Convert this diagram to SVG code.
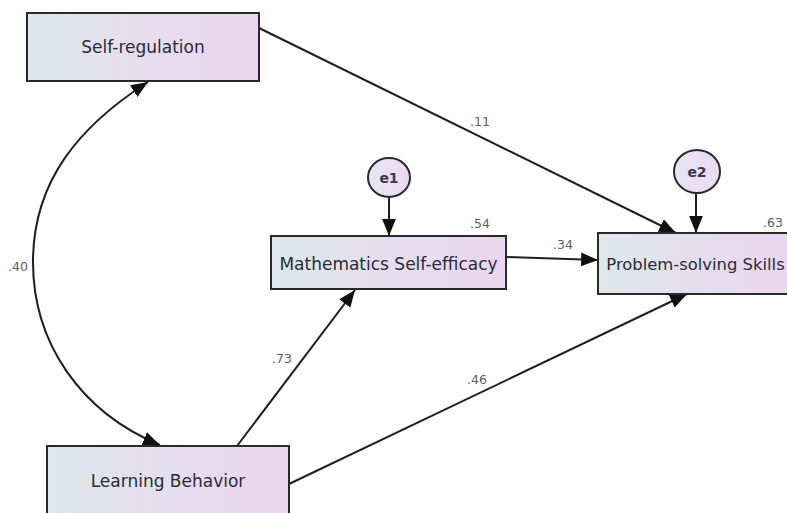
<svg xmlns="http://www.w3.org/2000/svg" width="787" height="513" viewBox="0 0 787 513">
  <style>
    .box { stroke: #2a2a2a; stroke-width: 2; fill: url(#boxGrad); }
    .err { stroke: #2a2a2a; stroke-width: 2; fill: url(#errGrad); }
    .name { font-family: "DejaVu Sans", Verdana, sans-serif; font-size: 17px; fill: #2b2b38; text-anchor: middle; }
    .ename { font-family: "DejaVu Sans", Verdana, sans-serif; font-size: 14px; font-weight: bold; fill: #3a3a48; text-anchor: middle; }
    .coef { font-family: "DejaVu Sans", Verdana, sans-serif; font-size: 12.5px; fill: #5a5e66; text-anchor: middle; }
    .edge { stroke: #1e1e1e; stroke-width: 2; fill: none; }
  </style>
  <defs>
    <linearGradient id="boxGrad" x1="0" y1="0" x2="1" y2="0">
      <stop offset="0" stop-color="#dee7ea"/>
      <stop offset="1" stop-color="#ecd5f1"/>
    </linearGradient>
    <linearGradient id="errGrad" x1="0" y1="0" x2="1" y2="0">
      <stop offset="0" stop-color="#e6e6f2"/>
      <stop offset="1" stop-color="#ecd9f2"/>
    </linearGradient>
    <marker id="arr" markerUnits="userSpaceOnUse" markerWidth="18" markerHeight="14" viewBox="0 0 17 13" refX="16" refY="6.5" orient="auto-start-reverse">
      <path d="M0,0 L16,6.5 L0,13 z" fill="#111"/>
    </marker>
  </defs>

  <g id="connectors">
    <path class="edge" d="M148,82 C78,127 33,182 33,262 C33,342 80,412 160,445" marker-start="url(#arr)" marker-end="url(#arr)"/>
    <line class="edge" x1="259" y1="28" x2="676" y2="233" marker-end="url(#arr)"/>
    <line class="edge" x1="506" y1="257" x2="598" y2="260" marker-end="url(#arr)"/>
    <line class="edge" x1="237" y1="446" x2="355" y2="290" marker-end="url(#arr)"/>
    <line class="edge" x1="289" y1="484" x2="687" y2="294" marker-end="url(#arr)"/>
    <line class="edge" x1="389" y1="197" x2="389" y2="236" marker-end="url(#arr)"/>
    <line class="edge" x1="696" y1="193" x2="696" y2="233" marker-end="url(#arr)"/>
  </g>

  <g id="self-regulation">
    <rect class="box" x="27" y="13" width="232" height="68"/>
    <text class="name" x="143" y="53">Self-regulation</text>
  </g>

  <g id="math-self-efficacy">
    <rect class="box" x="271" y="236" width="235" height="53"/>
    <text class="name" x="388.5" y="270">Mathematics Self-efficacy</text>
  </g>

  <g id="problem-solving">
    <rect class="box" x="598" y="233" width="200" height="61"/>
    <text class="name" x="695.5" y="270" style="font-size:16.4px">Problem-solving Skills</text>
  </g>

  <g id="learning-behavior">
    <rect class="box" x="47" y="446" width="242" height="80"/>
    <text class="name" x="168" y="487">Learning Behavior</text>
  </g>

  <g id="e1">
    <ellipse class="err" cx="389" cy="177.5" rx="21" ry="19.5"/>
    <text class="ename" x="389" y="183">e1</text>
  </g>

  <g id="e2">
    <ellipse class="err" cx="697" cy="171.5" rx="23" ry="21.5"/>
    <text class="ename" x="697" y="177">e2</text>
  </g>

  <g id="labels">
    <text class="coef" x="480" y="126">.11</text>
    <text class="coef" x="480" y="228">.54</text>
    <text class="coef" x="773" y="227">.63</text>
    <text class="coef" x="563" y="249">.34</text>
    <text class="coef" x="282" y="363">.73</text>
    <text class="coef" x="477" y="384">.46</text>
    <text class="coef" x="18" y="271">.40</text>
  </g>
</svg>
